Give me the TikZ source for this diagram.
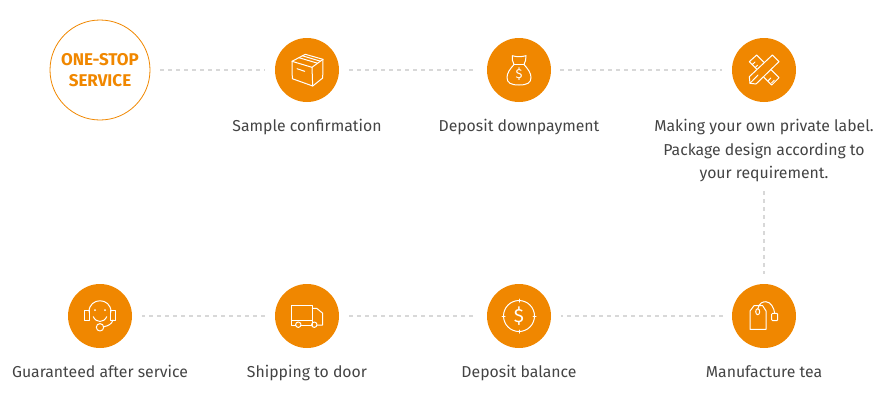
\documentclass[tikz,border=0pt]{standalone}
\usepackage{fontspec}
\setmainfont{Fira Sans}
\usetikzlibrary{positioning}
\definecolor{brandorange}{HTML}{F08700}
\definecolor{labelgray}{HTML}{444444}
\definecolor{dashgray}{HTML}{D8D8D8}

\begin{document}
\begin{tikzpicture}[x=1pt,y=-1pt,
    stepcircle/.style={circle,fill=brandorange,minimum size=64pt,inner sep=0pt},
    steplabel/.style={align=center,text=labelgray,font=\fontsize{15.8}{23.5}\selectfont},
    dashline/.style={draw=dashgray,line width=1.5pt,dash pattern=on 4pt off 4pt,shorten >=10pt,shorten <=10pt},
    iconline/.style={draw=white,line width=1pt,line join=round,line cap=round}]
    \useasboundingbox (0,0) rectangle (886,400);

    \node[circle,draw=brandorange,line width=0.8pt,minimum size=100pt,inner sep=0pt,align=center,
          text=brandorange,font=\fontsize{17}{21.5}\selectfont\bfseries] (onestop) at (100,70) {ONE-STOP\\SERVICE};
    \node[stepcircle] (sample) at (307,70) {};
    \node[stepcircle] (deposit) at (519,70) {};
    \node[stepcircle] (design) at (764,70) {};
    \node[stepcircle] (after) at (100,316) {};
    \node[stepcircle] (shipping) at (307,316) {};
    \node[stepcircle] (balance) at (519,316) {};
    \node[stepcircle] (tea) at (764,316) {};

    \node[steplabel,below=13.5pt of sample] (samplelabel) {Sample confirmation};
    \node[steplabel,below=13.5pt of deposit] (depositlabel) {Deposit downpayment};
    \node[steplabel,below=13.5pt of design] (designlabel) {Making your own private label.\\Package design according to\\your requirement.};
    \node[steplabel,below=13.5pt of after] (afterlabel) {Guaranteed after service};
    \node[steplabel,below=13.5pt of shipping] (shippinglabel) {Shipping to door};
    \node[steplabel,below=13.5pt of balance] (balancelabel) {Deposit balance};
    \node[steplabel,below=13.5pt of tea] (tealabel) {Manufacture tea};

    % connectors
    \draw[dashline] (onestop) -- (sample);
    \draw[dashline,shorten >=14pt] (sample) -- (deposit);
    \draw[dashline,shorten <=9pt] (deposit) -- (design);
    \draw[dashline,shorten <=6pt] (designlabel) -- (tea);
    \draw[dashline,shorten <=9pt] (tea) -- (balance);
    \draw[dashline,shorten <=14pt] (balance) -- (shipping);
    \draw[dashline] (shipping) -- (after);

    % box
    \begin{scope}[shift={(sample.center)},iconline]
        \draw (-15,-8.7) -- (-1.7,-15.7) -- (16,-10.7) -- (15.7,8) -- (5.7,16) -- (-14.7,8.7) -- cycle;
        \draw (-15,-8.7) -- (5,-2.7) -- (16,-10.7);
        \draw (5,-2.7) -- (5.7,16);
        \draw (-8,-12.3) -- (10.5,-6.8);
        \draw (-4.5,-14.2) -- (13.5,-8.8);
        \draw (-10,-1.3) -- (-2.3,1.3);
    \end{scope}

    % money bag
    \begin{scope}[shift={(deposit.center)},iconline]
        \draw (-5,-5.5) .. controls (-6,-8) and (-7.5,-11) .. (-6.7,-14.3) .. controls (-3,-13) and (3,-13) .. (7,-14.3) .. controls (7.5,-11) and (6,-8) .. (5,-5.5);
        \draw (-5,-5.5) -- (5,-5.5);
        \draw (-5,-5.5) .. controls (-9,-1) and (-12,3) .. (-12,7.5) .. controls (-12,13) and (-8,15) .. (0,15) .. controls (8,15) and (12,13) .. (12,7.5) .. controls (12,3) and (9,-1) .. (5,-5.5);
        \node[text=white,inner sep=0pt,font=\fontsize{13}{13}\selectfont] (bagdollar) at (0,4) {\$};
    \end{scope}

    % ruler and pencil
    \begin{scope}[shift={(design.center)},iconline]
        \draw (-14.7,6.7) -- (8.4,-15) -- (15,-8.4) -- (-8,14) -- (-14,13.3) -- cycle;
        \draw (-14,13.3) -- (-6,5);
        \draw (-7.2,-0.8) -- (-14.7,-8.3) -- (-7.3,-15) -- (-0.15,-7.85);
        \draw (-0.3,7) -- (7.7,15) -- (15,7.7) -- (7,-0.3);
        \draw (-11.8,-5.3) -- (-9,-8);
        \draw (-8.8,-2.5) -- (-6.5,-4.8);
        \draw (4,10.8) -- (6.8,8);
        \draw (7.5,13) -- (10.3,10.2);
    \end{scope}

    % headset
    \begin{scope}[shift={(after.center)},iconline]
        \draw (-11,-4) .. controls (-11,-19) and (11,-19) .. (11,-4);
        \draw (-15.7,-5.3) rectangle (-11,4);
        \draw (10.7,-5.3) rectangle (15.3,4);
        \draw (-6.7,0.7) .. controls (-4,7) and (4,7) .. (6.7,0.7);
        \fill[white] (-5,-6) circle[radius=1pt];
        \fill[white] (5,-6) circle[radius=1pt];
        \draw (0,11.3) circle[radius=3.7pt];
        \draw (3.7,10.7) .. controls (8,10) and (12,8) .. (13,4);
    \end{scope}

    % truck
    \begin{scope}[shift={(shipping.center)},iconline]
        \draw (-11.4,9) -- (-15.3,9) -- (-15.3,-11) -- (5.3,-11) -- (5.3,9) -- (-6,9);
        \draw (-15.3,4) -- (5.3,4);
        \draw (5.3,-7.7) -- (9.7,-7.7) -- (15.7,-2.7) -- (15.7,9) -- (10,9);
        \draw (-8.7,8.7) circle[radius=2.7pt];
        \draw (7.3,8.7) circle[radius=2.7pt];
    \end{scope}

    % coin
    \begin{scope}[shift={(balance.center)},iconline]
        \draw (0,0) circle[radius=15.5pt];
        \draw (0,-17) -- (0,-14);
        \draw (0,17) -- (0,14);
        \draw (-17,0) -- (-14,0);
        \draw (17,0) -- (14,0);
        \node[text=white,inner sep=0pt,font=\fontsize{19}{19}\selectfont\fontseries{l}\selectfont] (coindollar) at (0,0) {\$};
    \end{scope}

    % tea bag
    \begin{scope}[shift={(tea.center)},iconline]
        \draw (-14,-5) -- (-10,-10.3) -- (-1.3,-10.3) -- (2,-5) -- (2,13.3) -- (-14,13.3) -- cycle;
        \draw (-6.3,-4.3) ellipse[x radius=2pt,y radius=3pt];
        \draw (-6.3,-7) .. controls (-5,-13) and (-1,-14.5) .. (2,-14.3) .. controls (7,-14) and (10,-8) .. (10.7,-2.7);
        \draw[rounded corners=1pt] (7.7,-2.7) rectangle (13.7,4.7);
    \end{scope}
\end{tikzpicture}
\end{document}
